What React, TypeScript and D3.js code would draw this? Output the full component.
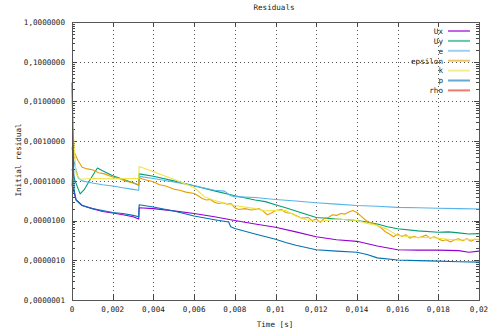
import { useEffect, useRef } from 'react'
import * as d3 from 'd3'

type Pt = [number, number]

// residual histories, [time s, initial residual]
const ux: Pt[] = [
  [0, 8e-5], [0.0002, 3.3e-5], [0.0005, 2.4e-5], [0.001, 2.0e-5], [0.0015, 1.7e-5],
  [0.002, 1.55e-5], [0.0025, 1.4e-5], [0.003, 1.25e-5], [0.00328, 1.1e-5],
  [0.0033, 2.1e-5], [0.004, 2.0e-5], [0.005, 1.75e-5], [0.006, 1.5e-5], [0.007, 1.25e-5],
  [0.008, 1.0e-5], [0.009, 8.2e-6], [0.01, 6.8e-6], [0.011, 5.2e-6], [0.012, 3.9e-6],
  [0.013, 3.3e-6], [0.014, 3.0e-6], [0.015, 2.3e-6], [0.016, 1.85e-6], [0.017, 1.8e-6],
  [0.018, 1.8e-6], [0.019, 1.75e-6], [0.0195, 1.6e-6], [0.02, 1.7e-6],
]

const uy: Pt[] = [
  [0, 2e-4], [0.00015, 1.0e-4], [0.0004, 4.7e-5], [0.0006, 6.0e-5], [0.0009, 1.1e-4],
  [0.00125, 2.1e-4], [0.0015, 1.8e-4], [0.002, 1.35e-4], [0.0025, 1.1e-4], [0.003, 9.0e-5],
  [0.00328, 7.8e-5], [0.0033, 1.5e-4], [0.004, 1.3e-4], [0.005, 1.0e-4], [0.006, 7.5e-5],
  [0.007, 5.6e-5], [0.008, 4.2e-5], [0.009, 3.3e-5], [0.0095, 3.0e-5], [0.01, 2.5e-5],
  [0.0105, 2.1e-5], [0.011, 1.75e-5], [0.0115, 1.45e-5], [0.012, 1.2e-5], [0.013, 1.1e-5],
  [0.014, 1.0e-5], [0.0145, 9.2e-6], [0.015, 8.2e-6], [0.0155, 7.0e-6], [0.016, 6.2e-6],
  [0.017, 5.5e-6], [0.018, 5.1e-6], [0.0185, 5.2e-6], [0.019, 4.9e-6], [0.0195, 4.6e-6],
  [0.02, 4.7e-6],
]

const e: Pt[] = [
  [0, 7e-4], [0.0001, 3e-4], [0.0003, 1.2e-4], [0.0005, 1.0e-4], [0.001, 8.8e-5],
  [0.0015, 8.0e-5], [0.002, 7.4e-5], [0.0025, 6.7e-5], [0.003, 6.1e-5], [0.00328, 5.8e-5],
  [0.0033, 1.3e-4], [0.004, 1.15e-4], [0.005, 9.4e-5], [0.006, 7.5e-5], [0.007, 5.8e-5],
  [0.0075, 5.5e-5], [0.0078, 4.2e-5], [0.008, 4.0e-5], [0.009, 3.8e-5], [0.01, 3.4e-5],
  [0.011, 3.1e-5], [0.012, 2.8e-5], [0.013, 2.6e-5], [0.014, 2.4e-5], [0.015, 2.3e-5],
  [0.016, 2.15e-5], [0.017, 2.1e-5], [0.018, 2.05e-5], [0.019, 2.0e-5], [0.02, 1.95e-5],
]

const epsilon: Pt[] = [
  [0, 8e-5], [0.0001, 5.4e-4], [0.0003, 3.2e-4], [0.0005, 2.2e-4], [0.00075, 2.0e-4],
  [0.001, 1.9e-4], [0.0013, 1.6e-4], [0.0016, 1.5e-4], [0.002, 1.25e-4], [0.0023, 1.15e-4],
  [0.0026, 1.0e-4], [0.003, 8.8e-5], [0.00328, 8.0e-5], [0.0033, 1.2e-4], [0.0035, 1.1e-4],
  [0.004, 9.5e-5], [0.0043, 8.0e-5], [0.0046, 7.4e-5], [0.005, 6.2e-5], [0.0053, 5.8e-5],
  [0.0056, 5.2e-5], [0.006, 4.8e-5], [0.0062, 4.2e-5], [0.0064, 3.6e-5], [0.0066, 3.3e-5],
  [0.0068, 3.4e-5], [0.007, 2.9e-5], [0.0072, 2.7e-5], [0.0074, 2.8e-5], [0.0076, 2.6e-5],
  [0.0078, 2.7e-5], [0.008, 2.1e-5], [0.0082, 1.9e-5], [0.0085, 2.0e-5], [0.0088, 1.85e-5],
  [0.009, 1.9e-5], [0.0092, 2.0e-5], [0.0094, 1.7e-5], [0.0096, 1.4e-5], [0.0098, 1.55e-5],
  [0.01, 1.8e-5], [0.0103, 1.9e-5], [0.0105, 1.6e-5], [0.0108, 1.5e-5], [0.011, 1.35e-5],
  [0.0113, 1.15e-5], [0.0116, 1.2e-5], [0.0118, 1.0e-5], [0.012, 1.1e-5], [0.0122, 9.0e-6],
  [0.0124, 1.15e-5], [0.0126, 1.2e-5], [0.0128, 1.4e-5], [0.013, 1.35e-5], [0.0132, 1.5e-5],
  [0.0134, 1.45e-5], [0.0136, 1.65e-5], [0.0138, 1.8e-5], [0.014, 1.6e-5], [0.0142, 1.3e-5],
  [0.0144, 1.05e-5], [0.0146, 9.0e-6], [0.0148, 8.5e-6], [0.015, 7.5e-6], [0.0152, 6.5e-6],
  [0.0154, 5.2e-6], [0.0156, 4.6e-6], [0.0158, 3.9e-6], [0.016, 4.6e-6], [0.0162, 4.0e-6],
  [0.0164, 4.4e-6], [0.0166, 3.6e-6], [0.0168, 4.0e-6], [0.017, 3.7e-6], [0.0172, 3.9e-6],
  [0.0174, 4.3e-6], [0.0176, 3.6e-6], [0.0178, 3.9e-6], [0.018, 3.5e-6], [0.0182, 3.1e-6],
  [0.0184, 3.3e-6], [0.0186, 2.9e-6], [0.0188, 3.3e-6], [0.019, 3.5e-6], [0.0192, 3.1e-6],
  [0.0194, 3.5e-6], [0.0196, 3.0e-6], [0.0198, 3.4e-6], [0.02, 3.3e-6],
]

const k: Pt[] = [
  [0, 2e-2], [0.00005, 2e-3], [0.0002, 1.5e-4], [0.0004, 1.1e-4], [0.001, 1.15e-4],
  [0.002, 1.12e-4], [0.003, 1.15e-4], [0.00328, 1.15e-4], [0.0033, 2.3e-4], [0.004, 1.7e-4],
  [0.005, 1.1e-4], [0.006, 6.8e-5], [0.0065, 4.0e-5], [0.007, 3.2e-5], [0.008, 2.4e-5],
  [0.009, 2.0e-5], [0.0095, 1.75e-5], [0.01, 1.8e-5], [0.0105, 1.8e-5], [0.011, 1.3e-5],
  [0.0115, 1.05e-5], [0.012, 9.5e-6], [0.0125, 1.0e-5], [0.013, 1.1e-5], [0.0135, 1.05e-5],
  [0.014, 1.0e-5], [0.0145, 8.5e-6], [0.015, 7.5e-6], [0.0155, 6.0e-6], [0.016, 4.2e-6],
  [0.0165, 4.0e-6], [0.017, 3.7e-6], [0.0175, 3.8e-6], [0.018, 3.6e-6], [0.0185, 3.4e-6],
  [0.019, 3.2e-6], [0.0195, 3.4e-6], [0.02, 3.4e-6],
]

const p: Pt[] = [
  [0, 3e-2], [0.0001, 6e-5], [0.0002, 3.3e-5], [0.0005, 2.4e-5], [0.001, 2.0e-5],
  [0.0015, 1.8e-5], [0.002, 1.6e-5], [0.0025, 1.5e-5], [0.003, 1.35e-5], [0.00328, 1.25e-5],
  [0.0033, 2.5e-5], [0.004, 2.2e-5], [0.005, 1.75e-5], [0.006, 1.3e-5], [0.007, 1.05e-5],
  [0.0077, 9.2e-6], [0.0078, 7e-6], [0.008, 6.3e-6], [0.009, 4.6e-6], [0.01, 3.4e-6],
  [0.0105, 2.8e-6], [0.011, 2.4e-6], [0.012, 1.85e-6], [0.013, 1.7e-6], [0.014, 1.6e-6],
  [0.0145, 1.4e-6], [0.015, 1.15e-6], [0.016, 1.02e-6], [0.017, 9.8e-7], [0.018, 9.5e-7],
  [0.019, 9.2e-7], [0.02, 9.0e-7],
]

const rho: Pt[] = []

const seriesNames = ['Ux', 'Uy', 'e', 'epsilon', 'k', 'p', 'rho']
const seriesData = [ux, uy, e, epsilon, k, p, rho]
const colors = ['#9400d3', '#009e73', '#56b4e9', '#e69f00', '#f0e442', '#0072b2', '#e51e10']

const xTicks = [0, 0.002, 0.004, 0.006, 0.008, 0.01, 0.012, 0.014, 0.016, 0.018, 0.02]
const yTicks = [1, 0.1, 0.01, 0.001, 0.0001, 0.00001, 0.000001, 0.0000001]

const W = 492
const H = 332
const FONT = '"DejaVu Sans Mono", monospace'

export default function App() {
  const svgRef = useRef<SVGSVGElement>(null)

  useEffect(() => {
    if (!svgRef.current) return
    const svg = d3.select(svgRef.current)
    svg.selectAll('*').remove()

    const left = 72
    const right = 479
    const top = 22
    const bottom = 300

    const x = d3.scaleLinear().domain([0, 0.02]).range([left, right])
    const y = d3.scaleLog().domain([1e-7, 1]).range([bottom, top])

    svg.append('rect').attr('width', W).attr('height', H).attr('fill', '#fff')

    // grid
    const grid = svg.append('g').attr('stroke', '#555').attr('stroke-width', 1).attr('stroke-dasharray', '1,3')
    xTicks.slice(1, -1).forEach(t => {
      grid.append('line').attr('x1', Math.round(x(t)) + 0.5).attr('x2', Math.round(x(t)) + 0.5)
        .attr('y1', top).attr('y2', bottom)
    })
    yTicks.slice(1, -1).forEach(t => {
      grid.append('line').attr('y1', Math.round(y(t)) + 0.5).attr('y2', Math.round(y(t)) + 0.5)
        .attr('x1', left).attr('x2', right)
    })

    // ticks on all four sides
    const tk = svg.append('g').attr('stroke', '#444').attr('stroke-width', 1)
    xTicks.forEach(t => {
      const px = Math.round(x(t)) + 0.5
      tk.append('line').attr('x1', px).attr('x2', px).attr('y1', bottom).attr('y2', bottom - 5)
      tk.append('line').attr('x1', px).attr('x2', px).attr('y1', top).attr('y2', top + 5)
    })
    for (let d = -7; d < 0; d++) {
      for (let m = 1; m < 10; m++) {
        const v = m * Math.pow(10, d)
        const py = Math.round(y(v)) + 0.5
        const len = m === 1 ? 5 : 3
        tk.append('line').attr('x1', left).attr('x2', left + len).attr('y1', py).attr('y2', py)
        tk.append('line').attr('x1', right).attr('x2', right - len).attr('y1', py).attr('y2', py)
      }
    }

    // lines
    const line = d3.line<Pt>().x(d => x(d[0])).y(d => y(d[1]))
    seriesData.forEach((data, i) => {
      if (!data.length) return
      svg.append('path').datum(data).attr('d', line).attr('fill', 'none')
        .attr('stroke', colors[i]).attr('stroke-width', 1.1).attr('stroke-linejoin', 'round')
    })

    // border
    svg.append('rect').attr('x', left + 0.5).attr('y', top + 0.5)
      .attr('width', right - left).attr('height', bottom - top)
      .attr('fill', 'none').attr('stroke', '#555').attr('stroke-width', 1)

    const txt = svg.append('g').attr('font-family', FONT).attr('font-size', 7.6).attr('fill', '#222')

    // tick labels
    yTicks.forEach(t => {
      txt.append('text').attr('x', 65).attr('y', y(t) + 2.8).attr('text-anchor', 'end')
        .text(t.toFixed(7).replace('.', ','))
    })
    xTicks.forEach(t => {
      txt.append('text').attr('x', x(t)).attr('y', 312).attr('text-anchor', 'middle')
        .text(String(+t.toFixed(3)).replace('.', ','))
    })

    txt.append('text').attr('x', 274).attr('y', 10).attr('text-anchor', 'middle').text('Residuals')
    txt.append('text').attr('x', 275).attr('y', 327).attr('text-anchor', 'middle').text('Time [s]')
    txt.append('text').attr('transform', 'translate(21,160) rotate(-90)')
      .attr('text-anchor', 'middle').text('Initial residual')

    // legend
    const legend = svg.append('g')
    seriesNames.forEach((name, i) => {
      const ly = 31 + i * 9.9
      legend.append('rect').attr('x', 448).attr('y', ly - 1).attr('width', 22).attr('height', 2)
        .attr('fill', colors[i]).attr('opacity', 0.6)
      legend.append('text').attr('x', 443).attr('y', ly + 2.8).attr('text-anchor', 'end')
        .attr('font-family', FONT).attr('font-size', 7.6).attr('fill', '#222').text(name)
    })
  }, [])

  return (
    <div style={{ position: 'fixed', left: 0, top: 0 }}>
      <svg ref={svgRef} width={W} height={H} style={{ display: 'block' }} />
    </div>
  )
}
